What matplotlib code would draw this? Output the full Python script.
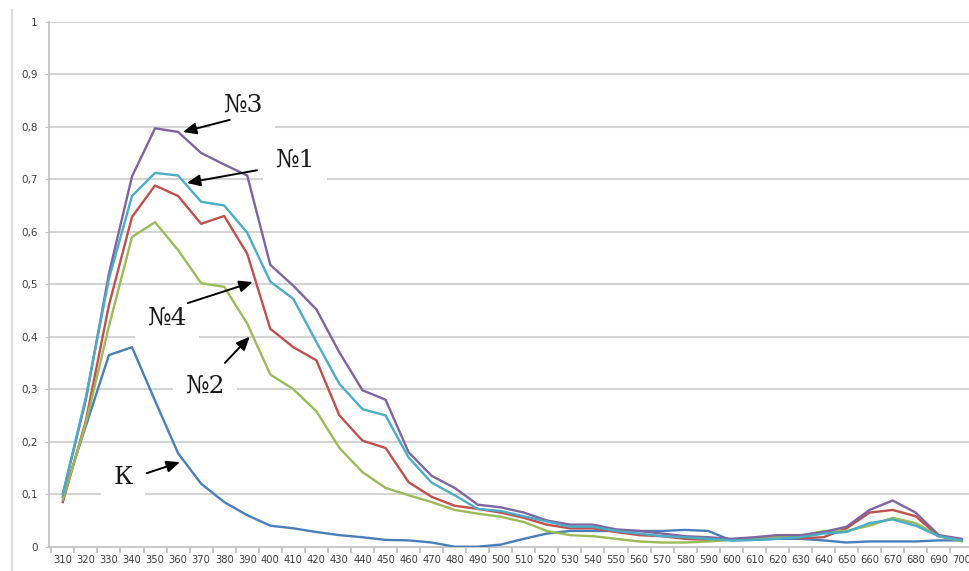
import matplotlib.pyplot as plt
from matplotlib.lines import Line2D

wavelengths = list(range(310, 701, 10))

# К (контроль)
k_vals = [0.095, 0.23, 0.365, 0.38, 0.278, 0.178, 0.12, 0.085, 0.06, 0.04,
          0.035, 0.028, 0.022, 0.018, 0.013, 0.012, 0.008, 0.0, 0.0, 0.004,
          0.015, 0.025, 0.03, 0.03, 0.03, 0.03, 0.03, 0.032, 0.03, 0.012,
          0.013, 0.015, 0.015, 0.012, 0.008, 0.01, 0.01, 0.01, 0.012, 0.012]
# №4 (red)
s4_vals = [0.085, 0.24, 0.46, 0.628, 0.688, 0.668, 0.615, 0.63, 0.558, 0.415,
           0.38, 0.355, 0.25, 0.202, 0.188, 0.123, 0.095, 0.078, 0.072, 0.065,
           0.055, 0.042, 0.035, 0.035, 0.028, 0.022, 0.02, 0.015, 0.013, 0.013,
           0.016, 0.018, 0.016, 0.018, 0.035, 0.065, 0.07, 0.058, 0.02, 0.013]
# №2 (green)
s2_vals = [0.09, 0.235, 0.42, 0.59, 0.618, 0.565, 0.502, 0.495, 0.425, 0.328,
           0.3, 0.258, 0.188, 0.142, 0.112, 0.098, 0.085, 0.07, 0.063, 0.057,
           0.047, 0.03, 0.022, 0.02, 0.015, 0.01, 0.008, 0.008, 0.01, 0.013,
           0.015, 0.018, 0.02, 0.03, 0.03, 0.04, 0.055, 0.045, 0.02, 0.01]
# №3 (purple)
s3_vals = [0.1, 0.28, 0.52, 0.705, 0.797, 0.79, 0.75, 0.728, 0.707, 0.537,
           0.497, 0.452, 0.37, 0.298, 0.28, 0.18, 0.135, 0.112, 0.08, 0.075,
           0.065, 0.05, 0.042, 0.042, 0.033, 0.03, 0.025, 0.02, 0.018, 0.015,
           0.018, 0.022, 0.022, 0.028, 0.038, 0.07, 0.088, 0.065, 0.022, 0.015]
# №1 (cyan)
s1_vals = [0.1, 0.285, 0.51, 0.668, 0.712, 0.707, 0.657, 0.65, 0.598, 0.505,
           0.472, 0.39, 0.31, 0.262, 0.25, 0.17, 0.122, 0.098, 0.072, 0.068,
           0.058, 0.048, 0.038, 0.038, 0.03, 0.025, 0.02, 0.018, 0.015, 0.012,
           0.013, 0.015, 0.018, 0.025, 0.028, 0.045, 0.052, 0.04, 0.02, 0.012]

y_ticks = [0, 0.1, 0.2, 0.3, 0.4, 0.5, 0.6, 0.7, 0.8, 0.9, 1]
y_tick_labels = ["0", "0,1", "0,2", "0,3", "0,4", "0,5", "0,6", "0,7", "0,8", "0,9", "1"]

fig = plt.figure(figsize=(9.69, 5.71), dpi=100)
ax = fig.add_axes([49 / 969, 24.3 / 571, 926.6 / 969, 525 / 571])

ax.set_xlim(304, 706)
ax.set_ylim(0, 1)

for y in y_ticks[1:]:
    ax.axhline(y, color="#d4d4d4", lw=1.5, zorder=0)

series = [(k_vals, "#4a7ebb"), (s4_vals, "#c0504d"), (s2_vals, "#9bbb59"),
          (s3_vals, "#8064a2"), (s1_vals, "#4bacc6")]
for vals, col in series:
    ax.plot(wavelengths, vals, color=col, lw=1.7, zorder=3)

for side in ["top", "right"]:
    ax.spines[side].set_visible(False)
for side in ["left", "bottom"]:
    ax.spines[side].set_color("#bfbfbf")
    ax.spines[side].set_linewidth(1.2)

ax.set_yticks(y_ticks)
ax.set_yticklabels(y_tick_labels)
ax.set_xticks(wavelengths)
ax.set_xticklabels([str(w) for w in wavelengths])
ax.set_xticks([w + 5 for w in wavelengths[:-1]] + [305], minor=True)
ax.tick_params(axis="x", which="major", length=0, labelsize=7.2, labelcolor="#404040", pad=6)
ax.tick_params(axis="x", which="minor", length=4, color="#bfbfbf", width=1.2)
ax.tick_params(axis="y", length=3, color="#bfbfbf", labelsize=7.5, labelcolor="#404040", pad=5)

# faint border of the pasted picture on the left
fig.add_artist(Line2D([12 / 969, 12 / 969], [0, 561 / 571], color="#dcdcdc", lw=1.5))

labels = [
    ("№3", (388.1, 0.841), (382.4, 0.813), (362.1, 0.790)),
    ("№1", (410.7, 0.736), (394.2, 0.717), (363.8, 0.693)),
    ("№4", (355.1, 0.435), (364.2, 0.464), (392.4, 0.504)),
    ("№2", (371.6, 0.306), (380.3, 0.350), (391.1, 0.400)),
    ("К", (336.0, 0.131), (346.4, 0.140), (360.8, 0.161)),
]
for txt, pos, tail, tip in labels:
    ax.text(pos[0], pos[1], txt, ha="center", va="center", fontsize=18,
            family="DejaVu Serif", color="#1a1a1a", zorder=1,
            bbox=dict(facecolor="white", edgecolor="none", pad=9))
    ax.annotate("", xy=tip, xytext=tail, zorder=4,
                arrowprops=dict(arrowstyle="-|>,head_length=0.8,head_width=0.35",
                                color="black", lw=1.4, shrinkA=0, shrinkB=0))

fig.savefig("out.png", dpi=100)
